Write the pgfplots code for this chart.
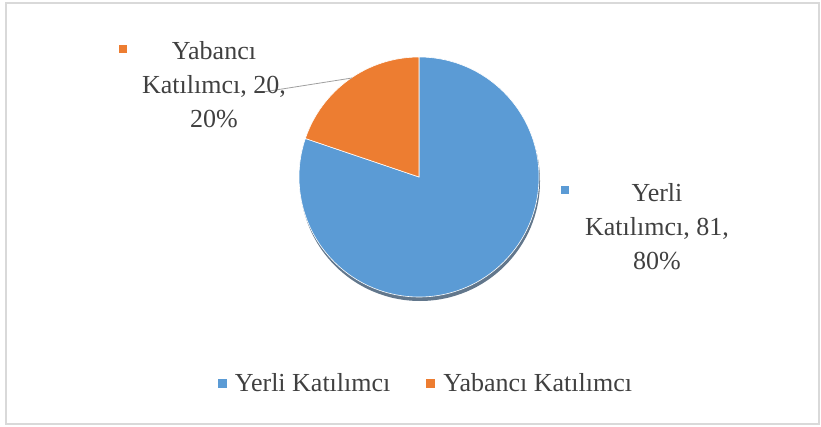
\documentclass[border=0pt]{standalone}
\usepackage{pgfplots}
\pgfplotsset{compat=1.18}
\usepackage{pgfplotstable}
\usepackage{fontspec}
\setmainfont{Liberation Serif}
\definecolor{cblue}{HTML}{5B9BD5}
\definecolor{corange}{HTML}{ED7D31}
\definecolor{ctext}{HTML}{404040}
\definecolor{cframe}{HTML}{D9D9D9}
\definecolor{cshadow}{HTML}{2E4A66}
\pgfplotstableread{
cat value
Yerli 81
Yabanci 20
}\piedata
\begin{document}
\begin{tikzpicture}
\pgfplotstablegetelem{0}{value}\of\piedata \let\vA\pgfplotsretval
\pgfplotstablegetelem{1}{value}\of\piedata \let\vB\pgfplotsretval
\pgfmathsetmacro{\tot}{\vA+\vB}
\pgfmathsetmacro{\angA}{90-(\vA/\tot)*360}
\pgfmathsetmacro{\angB}{90+(\vB/\tot)*360}
\begin{axis}[
  scale only axis, width=821pt, height=426pt,
  xmin=0, xmax=821, ymin=0, ymax=426,
  hide axis, clip=false,
  legend columns=2,
  legend image code/.code={\fill[#1,draw=none] (0pt,-4.5pt) rectangle (9pt,4.5pt);
    \path[draw=none,fill=none] (0pt,0pt) -- (15pt,0pt);},
  legend style={at={(axis cs:426,43)}, anchor=center, draw=none, fill=none,
    font=\fontsize{26}{30}\selectfont, text=ctext,
    /tikz/every even column/.append style={column sep=34pt}},
  legend cell align=left,
]
\path (axis cs:0,0) rectangle (axis cs:821,426);
\draw[cframe, line width=1.5pt] (axis cs:6,2) rectangle (axis cs:819,423);
% shadow
\fill[cshadow, opacity=0.75] (axis cs:420,245) circle[radius=120pt];
\addplot[fill=cblue, draw=white, line width=0.6pt] coordinates {(419,249) (419,369)}
  arc[start angle=90, end angle=\angA, radius=120pt] -- cycle;
\addlegendentry{Yerli Katılımcı}
\addplot[fill=corange, draw=white, line width=0.6pt] coordinates {(419,249) (419,369)}
  arc[start angle=90, end angle=\angB, radius=120pt] -- cycle;
\addlegendentry{Yabancı Katılımcı}
% leader line
\addplot[color=gray!75, line width=0.8pt] coordinates {(263,334) (352,348)};
% data labels
\fill[corange] (axis cs:119,373) rectangle (axis cs:127,381);
\node[align=center, text=ctext, font=\fontsize{26}{34}\selectfont] at (axis cs:214,341)
  {Yabancı\\Katılımcı, 20,\\20\%};
\fill[cblue] (axis cs:561,232) rectangle (axis cs:569,240);
\node[align=center, text=ctext, font=\fontsize{26}{34}\selectfont] at (axis cs:657,199)
  {Yerli\\Katılımcı, 81,\\80\%};
\end{axis}
\end{tikzpicture}
\end{document}
